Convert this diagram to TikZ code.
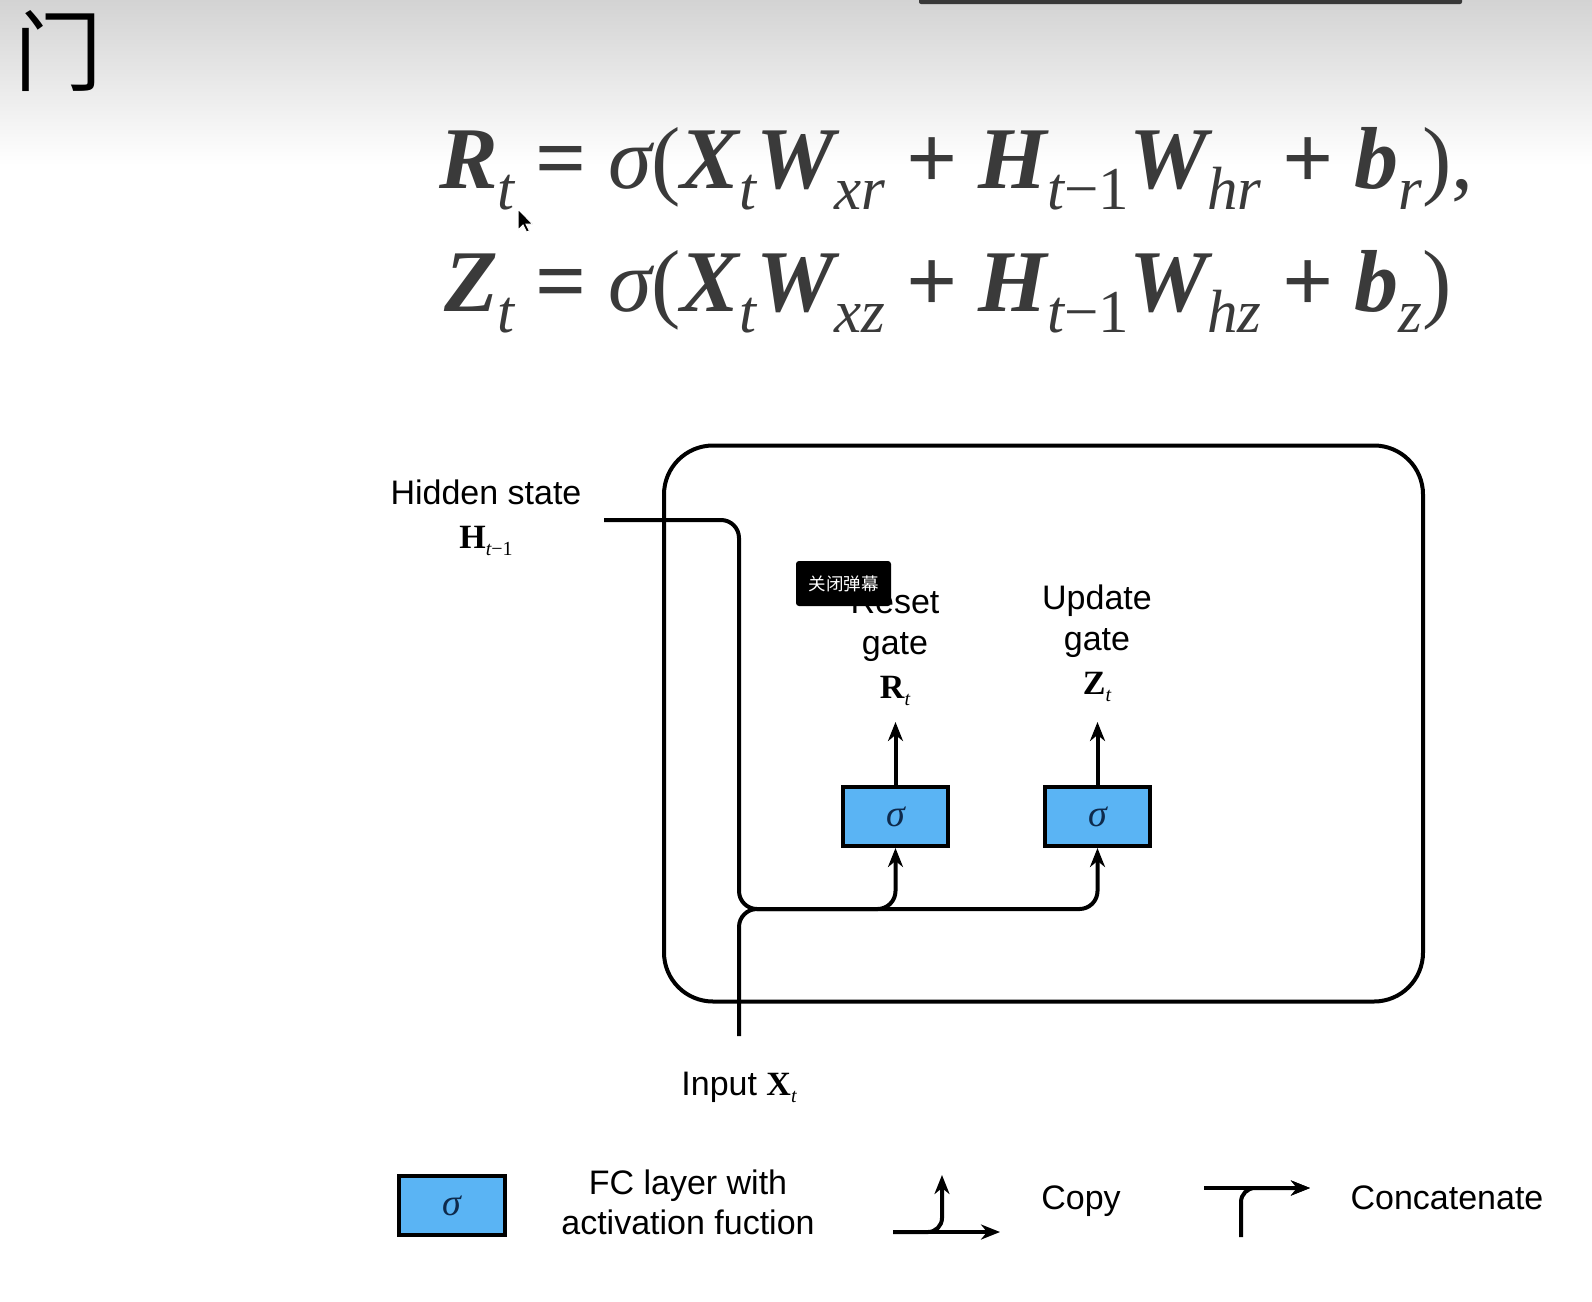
\documentclass[tikz,border=0pt]{standalone}
\usepackage{fontspec}
\setmainfont{Liberation Sans}
\newfontfamily\tms{Liberation Serif}
\newfontfamily\cjk{Noto Sans CJK SC}
\usetikzlibrary{arrows.meta}
\definecolor{eqgray}{HTML}{3A3A3A}
\definecolor{fcblue}{HTML}{5AB4F4}
\definecolor{sigblue}{HTML}{0E2A4C}
\definecolor{topgray}{HTML}{D3D3D3}
\newcommand\bi[1]{{\bfseries\itshape #1}}
\newcommand\esb[1]{\raisebox{-21pt}{\fontsize{61}{61}\selectfont\itshape #1}}
\newcommand\lsb[1]{\raisebox{-7pt}{\fontsize{20}{20}\selectfont #1}}
\newcommand\op[1]{\hspace{21pt}{\fontsize{90}{90}\selectfont\bfseries #1}\hspace{21pt}}
\tikzset{
  wire/.style={line width=4pt},
  arr/.style={wire, -{Stealth[length=19pt,width=15pt,inset=6pt]}},
  fcbox/.style={draw=black, line width=4pt, fill=fcblue, minimum width=105pt,
    minimum height=59pt, inner sep=0pt,
    font=\fontsize{38}{38}\selectfont\tms\itshape\color{sigblue}},
  lbl/.style={inner sep=0pt, anchor=base, font=\fontsize{34}{40}\selectfont},
  eq/.style={inner sep=0pt, anchor=base west, text=eqgray,
    font=\tms\fontsize{88}{88}\selectfont},
}
\begin{document}
\begin{tikzpicture}[x=1pt,y=-1pt]
\useasboundingbox (0,0) rectangle (1592,1301);
\fill[white] (0,0) rectangle (1592,1301);
\shade[top color=topgray, bottom color=white] (0,0) rectangle (1592,165);
\fill[black!78, rounded corners=2pt] (919,-4) rectangle (1462,4);

\node[inner sep=0pt, anchor=base west, font=\cjk\fontsize{88}{88}\selectfont] (title) at (14,84) {门};

\node[eq] (eq1) at (439,188) {\bi{R}\esb{t}\op{=}{\itshape σ}(\bi{X}\esb{t}\bi{W}\esb{xr}\op{+}\bi{H}\esb{t{\upshape −1}}\bi{W}\esb{hr}\op{+}\bi{b}\esb{r}),};
\node[eq] (eq2) at (444,311) {\bi{Z}\esb{t}\op{=}{\itshape σ}(\bi{X}\esb{t}\bi{W}\esb{xz}\op{+}\bi{H}\esb{t{\upshape −1}}\bi{W}\esb{hz}\op{+}\bi{b}\esb{z})};

\fill[black, draw=white, line width=1pt] (518,209) -- ++(0,21) -- ++(5,-5) -- ++(3.5,7) -- ++(3,-1) -- ++(-3.5,-7) -- ++(6.5,0) -- cycle;

% cell
\node[draw=black, line width=4pt, rounded corners=49pt, minimum width=759pt,
  minimum height=556pt, inner sep=0pt] (cell) at (1043.5,723.5) {};

\node[fcbox] (fc1) at (895.5,816.5) {σ};
\node[fcbox] (fc2) at (1097.5,816.5) {σ};

\coordinate (hs) at (604,520);
\coordinate (hc) at (739,909);
\coordinate (xin) at (739,1036);
\coordinate (r1) at (895.5,722);
\coordinate (z1) at (1097.5,722);

\draw[arr, rounded corners=18pt] (hs) -| (hc) -| (fc2.south);
\draw[arr, rounded corners=18pt] (xin) |- (fc1.south |- hc) -- (fc1.south);
\draw[arr] (fc1.north) -- (r1);
\draw[arr] (fc2.north) -- (z1);

% labels
\node[lbl] (hid) at (486,504) {Hidden state};
\node[lbl, font=\tms\fontsize{34}{34}\selectfont] (hsym) at (486,548) {\textbf{H}\lsb{\itshape t\upshape −1}};
\node[lbl] (rs1) at (895,613) {Reset};
\node[lbl] (rs2) at (895,654) {gate};
\node[lbl, font=\tms\fontsize{34}{34}\selectfont] (rs3) at (895,698) {\textbf{R}\lsb{\itshape t}};
\node[lbl] (up1) at (1097,609) {Update};
\node[lbl] (up2) at (1097,650) {gate};
\node[lbl, font=\tms\fontsize{34}{34}\selectfont] (up3) at (1097,694) {\textbf{Z}\lsb{\itshape t}};
\node[lbl] (inp) at (739,1095) {Input {\tms\textbf{X}\lsb{\itshape t}}};

\node[fill=black, rounded corners=3pt, text=white, minimum width=95pt,
  minimum height=45pt, inner sep=0pt, font=\cjk\fontsize{17.5}{17.5}\selectfont] (popup) at (843.5,583.5) {关闭弹幕};

% legend
\node[fcbox, minimum width=106pt] (lg) at (452,1205.5) {σ};
\node[lbl] (fc1t) at (688,1194) {FC layer with};
\node[lbl] (fc2t) at (688,1234) {activation fuction};
\coordinate (cpL) at (893,1232);
\coordinate (cpR) at (1000,1232);
\coordinate (cpU) at (942,1175);
\draw[arr] (cpL) -- (cpR);
\draw[arr, rounded corners=14pt] (cpL) -| (cpU);
\node[lbl] (cpt) at (1081,1209) {Copy};
\coordinate (ccL) at (1204,1188);
\coordinate (ccR) at (1310,1188);
\coordinate (ccB) at (1241,1237);
\draw[arr] (ccL) -- (ccR);
\draw[arr, rounded corners=14pt] (ccB) |- (ccR);
\node[lbl] (cct) at (1447,1209) {Concatenate};
\end{tikzpicture}
\end{document}
